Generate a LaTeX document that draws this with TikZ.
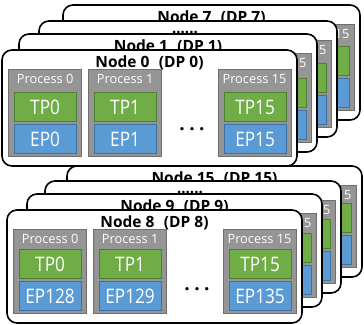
\documentclass[tikz,border=0pt]{standalone}
\usepackage{fontspec}
\setmainfont{Open Sans}
\usepackage{graphicx}
\usetikzlibrary{calc}
\definecolor{procgray}{HTML}{959595}
\definecolor{procedge}{HTML}{6F6F6F}
\definecolor{tpgreen}{HTML}{70AD47}
\definecolor{tpedge}{HTML}{4F7F32}
\definecolor{epblue}{HTML}{5B9BD5}
\definecolor{epedge}{HTML}{3F72A3}
\tikzset{
 frame/.style={draw=black,line width=1.6pt,fill=white,rounded corners=10pt,inner sep=0pt,outer sep=0pt},
 proc/.style={draw=procedge,fill=procgray,line width=1.4pt,inner sep=0pt},
 tpbox/.style={draw=tpedge,fill=tpgreen,line width=1.2pt,inner sep=0pt,minimum width=62pt,minimum height=29pt},
 epbox/.style={draw=epedge,fill=epblue,line width=1.2pt,inner sep=0pt,minimum width=62pt,minimum height=29pt},
 plabel/.style={text=white,font=\fontsize{12.8}{14}\selectfont,inner sep=0pt},
 boxlabel/.style={text=white,font=\fontsize{20}{22}\selectfont,inner sep=0pt},
 titletext/.style={font=\bfseries\fontsize{15.5}{18}\selectfont,inner sep=0pt},
 dotstext/.style={font=\bfseries\fontsize{15}{18}\selectfont,inner sep=0pt},
 bigdots/.style={font=\bfseries\fontsize{19}{20}\selectfont,inner sep=0pt},
}
\newcommand\dpbox[6]{%
 \pgfmathsetmacro\bw{#4-#2}%
 \pgfmathsetmacro\bh{#5-#3}%
 \pgfmathsetmacro\gt{#3+19}%
 \pgfmathsetmacro\gb{#5-10}%
 \pgfmathsetmacro\gh{\gb-\gt}%
 \pgfmathsetmacro\xa{#2+6}%
 \pgfmathsetmacro\xb{#2+86}%
 \pgfmathsetmacro\xc{#4-79}%
 \pgfmathsetmacro\cx{(#2+#4)/2}%
 \node[frame,minimum width=\bw pt,minimum height=\bh pt,anchor=north west] (#1) at (#2,#3) {};
 \node[titletext,anchor=base] (#1-title) at (\cx,#3+17) {#6};
 \foreach \k/\x in {0/\xa,1/\xb,15/\xc}{%
  \node[proc,minimum width=73pt,minimum height=\gh pt,anchor=north west] (#1-p\k) at (\x,\gt) {};
  \node[tpbox,anchor=north west] (#1-tp\k) at (\x+5.5,\gb-64) {};
  \node[epbox,anchor=north west] (#1-ep\k) at (\x+5.5,\gb-32) {};
 }%
 \node[plabel,anchor=base] (#1-l15) at (\xc+36.5,\gt+14) {Process 15};
}
\newcommand\frontlabels[4]{%
 \node[plabel,anchor=base] (#1-l0) at ($(#1-p0.north)+(0,14)$) {Process 0};
 \node[plabel,anchor=base] (#1-l1) at ($(#1-p1.north)+(0,14)$) {Process 1};
 \node[boxlabel] (#1-tt0) at (#1-tp0) {\scalebox{0.86}[1]{TP0}};
 \node[boxlabel] (#1-tt1) at (#1-tp1) {\scalebox{0.86}[1]{TP1}};
 \node[boxlabel] (#1-tt15) at (#1-tp15) {\scalebox{0.86}[1]{TP15}};
 \node[boxlabel] (#1-et0) at (#1-ep0) {\scalebox{0.86}[1]{#2}};
 \node[boxlabel] (#1-et1) at (#1-ep1) {\scalebox{0.86}[1]{#3}};
 \node[boxlabel] (#1-et15) at (#1-ep15) {\scalebox{0.86}[1]{#4}};
 \node[bigdots,anchor=base] (#1-dots) at ($(#1.north west)+(190,80)$) {.\hspace{4.5pt}.\hspace{4.5pt}.};
}
\begin{document}
\begin{tikzpicture}[x=1pt,y=-1pt]
\useasboundingbox (0,0) rectangle (364,324);
% top group
\dpbox{n7}{63}{5}{360}{120}{Node 7\hspace{0.35em} (DP 7)}
\dpbox{m1}{39}{21}{337}{137}{}
\node[dotstext,anchor=base] (m1-dots) at ($(m1.north)+(-3,12)$) {......};
\dpbox{n1}{19}{34}{317}{152}{Node 1\hspace{0.35em} (DP 1)}
\dpbox{n0}{2}{50}{297}{166}{Node 0\hspace{0.35em} (DP 0)}
\frontlabels{n0}{EP0}{EP1}{EP15}
% bottom group
\dpbox{n15}{67}{166}{362}{277}{Node 15\hspace{0.35em} (DP 15)}
\dpbox{m2}{45}{181}{341}{293}{}
\node[dotstext,anchor=base] (m2-dots) at ($(m2.north)+(-3,12)$) {......};
\dpbox{n9}{27}{194}{322}{307}{Node 9\hspace{0.35em} (DP 9)}
\dpbox{n8}{7}{210}{302}{323}{Node 8\hspace{0.35em} (DP 8)}
\frontlabels{n8}{EP128}{EP129}{EP135}
\end{tikzpicture}
\end{document}
